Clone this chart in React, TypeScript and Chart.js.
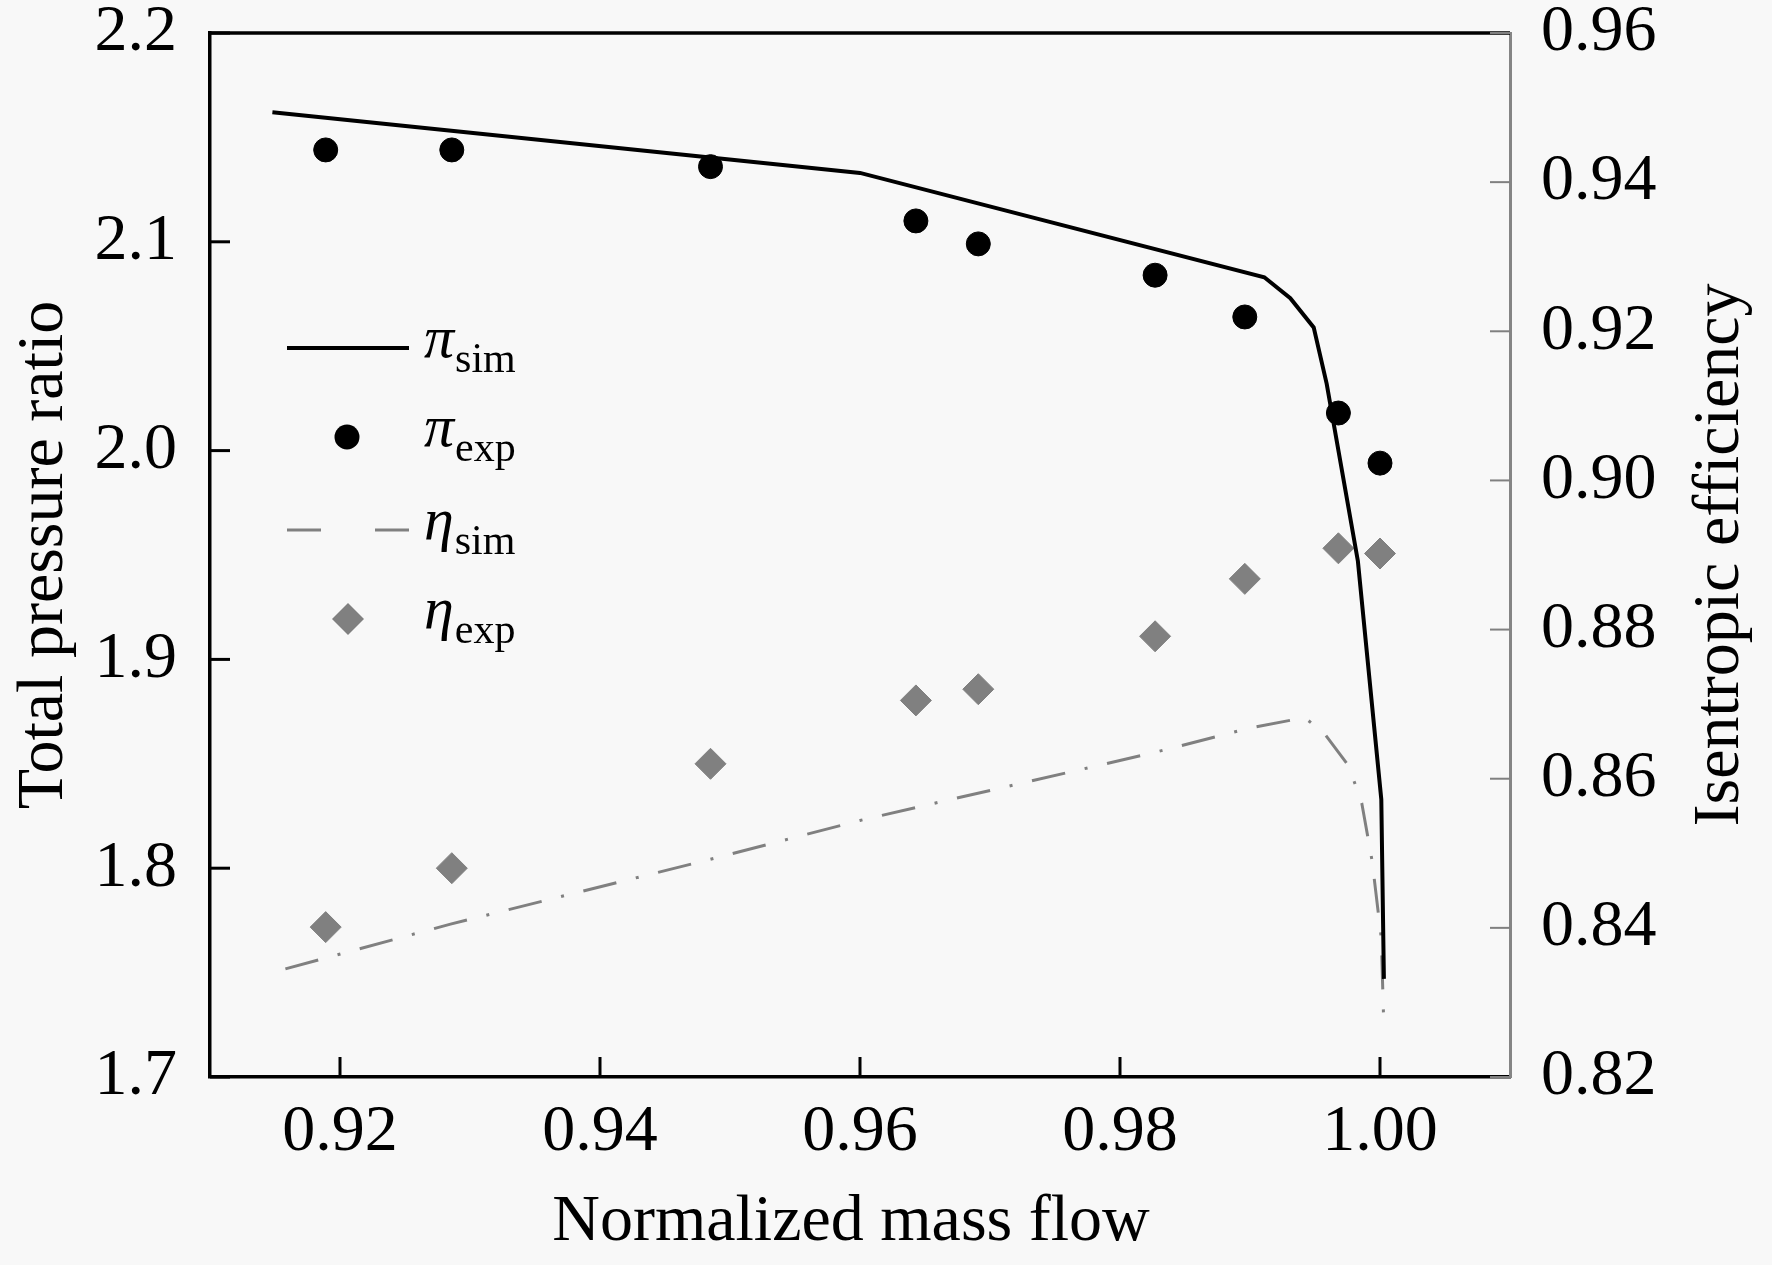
import React, { useEffect, useRef } from 'react';
import Chart from 'chart.js/auto';

// axis ticks
const massFlowTicks = [0.92, 0.94, 0.96, 0.98, 1.0];
const pressureTicks = [1.7, 1.8, 1.9, 2.0, 2.1, 2.2];
const efficiencyTicks = [0.82, 0.84, 0.86, 0.88, 0.9, 0.92, 0.94, 0.96];

// experiment (same mass flow points for both quantities)
const massFlowExp = [0.9189, 0.9286, 0.9485, 0.9643, 0.9691, 0.9827, 0.9896, 0.9968, 1.0];
const piExp = [2.144, 2.144, 2.136, 2.11, 2.099, 2.084, 2.064, 2.018, 1.994];
const etaExp = [0.8401, 0.848, 0.862, 0.8705, 0.872, 0.8791, 0.8868, 0.8909, 0.8902];

// simulation curves
const massFlowPiSim = [0.9148, 0.96, 0.9911, 0.9931, 0.9949, 0.9959, 0.9983, 1.0001, 1.0003];
const piSim = [2.162, 2.133, 2.083, 2.073, 2.059, 2.032, 1.947, 1.833, 1.747];
const massFlowEtaSim = [0.9158, 0.9285, 0.9485, 0.96, 0.9826, 0.99, 0.9942, 0.9957, 0.9976, 0.9986, 0.9994, 1.0001, 1.0003];
const etaSim = [0.8345, 0.8405, 0.8492, 0.8544, 0.8635, 0.8668, 0.8682, 0.8661, 0.8617, 0.8567, 0.8489, 0.8386, 0.8265];

const FONT = '"Liberation Serif", "Times New Roman", serif';
const GRAY = '#808080';
const ETA_DASH = [34, 20, 3, 20];

const toPoints = (xs: number[], ys: number[]) => xs.map((x, i) => ({ x, y: ys[i] }));

// no extra label overflow padding, the frame is placed by layout.padding and afterFit
const fixPadding = (s: any) => {
  s.paddingTop = 0;
  s.paddingBottom = 0;
  s.paddingLeft = 0;
  s.paddingRight = 0;
};

const drawLabel = (ctx: CanvasRenderingContext2D, x: number, y: number, sym: string, sub: string) => {
  ctx.fillStyle = '#000';
  ctx.textAlign = 'left';
  ctx.textBaseline = 'alphabetic';
  ctx.font = `italic 60px ${FONT}`;
  ctx.fillText(sym, x, y + 9);
  const w = ctx.measureText(sym).width;
  ctx.font = `42px ${FONT}`;
  ctx.fillText(sub, x + w + 1, y + 24);
};

const framePlugin = {
  id: 'frame',
  afterDatasetsDraw(chart: any) {
    const { ctx, chartArea, scales } = chart;
    const { left, right, top, bottom } = chartArea;
    ctx.save();
    ctx.lineCap = 'butt';
    ctx.strokeStyle = '#000';
    ctx.lineWidth = 3.5;
    ctx.beginPath();
    ctx.moveTo(left, top);
    ctx.lineTo(right, top);
    ctx.stroke();

    // inward tick marks
    ctx.lineWidth = 3;
    massFlowTicks.forEach(v => {
      const px = scales.x.getPixelForValue(v);
      ctx.beginPath();
      ctx.moveTo(px, bottom);
      ctx.lineTo(px, bottom - 20);
      ctx.stroke();
    });
    pressureTicks.forEach(v => {
      const py = scales.y.getPixelForValue(v);
      ctx.beginPath();
      ctx.moveTo(left, py);
      ctx.lineTo(left + 20, py);
      ctx.stroke();
    });
    ctx.strokeStyle = GRAY;
    ctx.lineWidth = 2;
    efficiencyTicks.forEach(v => {
      const py = scales.y2.getPixelForValue(v);
      ctx.beginPath();
      ctx.moveTo(right, py);
      ctx.lineTo(right - 20, py);
      ctx.stroke();
    });
    ctx.restore();
  },
  afterDraw(chart: any) {
    const { ctx, chartArea } = chart;
    ctx.save();

    // right axis title, reading bottom to top
    ctx.translate(chart.width - 51, (chartArea.top + chartArea.bottom) / 2);
    ctx.rotate(-Math.PI / 2);
    ctx.font = `66px ${FONT}`;
    ctx.fillStyle = '#000';
    ctx.textAlign = 'center';
    ctx.textBaseline = 'middle';
    ctx.fillText('Isentropic efficiency', 0, 0);
    ctx.restore();

    // x axis title
    ctx.save();
    ctx.font = `66px ${FONT}`;
    ctx.fillStyle = '#000';
    ctx.textAlign = 'center';
    ctx.textBaseline = 'middle';
    ctx.fillText('Normalized mass flow', (chartArea.left + chartArea.right) / 2 - 9, chart.height - 42);
    ctx.restore();

    // legend
    ctx.save();
    const x0 = 287;
    const x1 = 409;
    const xm = 348;
    const tx = 424;
    const rows = [348, 437, 530, 619];

    ctx.strokeStyle = '#000';
    ctx.lineWidth = 4;
    ctx.beginPath();
    ctx.moveTo(x0, rows[0]);
    ctx.lineTo(x1, rows[0]);
    ctx.stroke();
    drawLabel(ctx, tx, rows[0], 'π', 'sim');

    ctx.fillStyle = '#000';
    ctx.beginPath();
    ctx.arc(xm - 1, rows[1], 12.5, 0, Math.PI * 2);
    ctx.fill();
    drawLabel(ctx, tx, rows[1], 'π', 'exp');

    ctx.strokeStyle = GRAY;
    ctx.lineWidth = 3;
    ctx.beginPath();
    ctx.moveTo(x0, rows[2]);
    ctx.lineTo(x0 + 34, rows[2]);
    ctx.moveTo(x1 - 34, rows[2]);
    ctx.lineTo(x1, rows[2]);
    ctx.stroke();
    drawLabel(ctx, tx, rows[2], 'η', 'sim');

    ctx.fillStyle = GRAY;
    ctx.beginPath();
    ctx.moveTo(xm - 16, rows[3]);
    ctx.lineTo(xm, rows[3] - 16);
    ctx.lineTo(xm + 16, rows[3]);
    ctx.lineTo(xm, rows[3] + 16);
    ctx.closePath();
    ctx.fill();
    drawLabel(ctx, tx, rows[3], 'η', 'exp');
    ctx.restore();
  },
};

const tickFont = { family: FONT, size: 66, lineHeight: 1 };
const titleFont = { family: FONT, size: 66, lineHeight: 1.2 };

export default function App() {
  const canvasRef = useRef<HTMLCanvasElement>(null);

  useEffect(() => {
    if (!canvasRef.current) return;
    const chart = new Chart(canvasRef.current, {
      type: 'scatter',
      data: {
        datasets: [
          {
            label: 'π sim',
            data: toPoints(massFlowPiSim, piSim),
            yAxisID: 'y',
            showLine: true,
            borderColor: '#000',
            borderWidth: 4,
            pointRadius: 0,
            tension: 0,
          },
          {
            label: 'π exp',
            data: toPoints(massFlowExp, piExp),
            yAxisID: 'y',
            pointStyle: 'circle',
            pointRadius: 12,
            backgroundColor: '#000',
            borderColor: '#000',
            borderWidth: 1,
          },
          {
            label: 'η sim',
            data: toPoints(massFlowEtaSim, etaSim),
            yAxisID: 'y2',
            showLine: true,
            borderColor: GRAY,
            borderWidth: 3,
            borderDash: ETA_DASH,
            pointRadius: 0,
            tension: 0,
          },
          {
            label: 'η exp',
            data: toPoints(massFlowExp, etaExp),
            yAxisID: 'y2',
            pointStyle: 'rectRot',
            pointRadius: 15.5,
            backgroundColor: GRAY,
            borderColor: GRAY,
            borderWidth: 1,
          },
        ],
      },
      options: {
        responsive: false,
        animation: false,
        layout: { padding: { top: 33, left: 0, right: 0, bottom: 0 } },
        plugins: {
          legend: { display: false },
          tooltip: { enabled: false },
        },
        scales: {
          x: {
            type: 'linear',
            position: 'bottom',
            min: 0.91,
            max: 1.01,
            afterBuildTicks: (s: any) => {
              s.ticks = massFlowTicks.map(value => ({ value }));
            },
            afterFit: (s: any) => {
              s.height = 188;
              fixPadding(s);
            },
            grid: { display: false },
            border: { display: true, color: '#000', width: 3.5 },
            ticks: {
              font: tickFont,
              color: '#000',
              padding: 15,
              maxRotation: 0,
              autoSkip: false,
              callback: (v: any) => Number(v).toFixed(2),
            },
          },
          y: {
            type: 'linear',
            position: 'left',
            min: 1.7,
            max: 2.2,
            afterBuildTicks: (s: any) => {
              s.ticks = pressureTicks.map(value => ({ value }));
            },
            afterFit: (s: any) => {
              s.width = 210;
              fixPadding(s);
            },
            grid: { display: false },
            border: { display: true, color: '#000', width: 3.5 },
            ticks: {
              font: tickFont,
              color: '#000',
              padding: 25,
              callback: (v: any) => Number(v).toFixed(1),
            },
            title: {
              display: true,
              text: 'Total pressure ratio',
              font: titleFont,
              color: '#000',
              padding: { top: 5, bottom: 0 },
            },
          },
          y2: {
            type: 'linear',
            position: 'right',
            min: 0.82,
            max: 0.96,
            afterBuildTicks: (s: any) => {
              s.ticks = efficiencyTicks.map(value => ({ value }));
            },
            afterFit: (s: any) => {
              s.width = 262;
              fixPadding(s);
            },
            grid: { display: false },
            border: { display: true, color: '#858585', width: 3 },
            ticks: {
              font: tickFont,
              color: '#000',
              padding: 23,
              callback: (v: any) => Number(v).toFixed(2),
            },
          },
        },
      },
      plugins: [framePlugin],
    });
    return () => chart.destroy();
  }, []);

  return (
    <div
      style={{
        position: 'absolute',
        left: 0,
        top: 0,
        width: 1772,
        height: 1265,
        background: '#f8f8f8',
        overflow: 'hidden',
      }}
    >
      <canvas ref={canvasRef} width={1772} height={1265} style={{ display: 'block', width: 1772, height: 1265 }} />
    </div>
  );
}
